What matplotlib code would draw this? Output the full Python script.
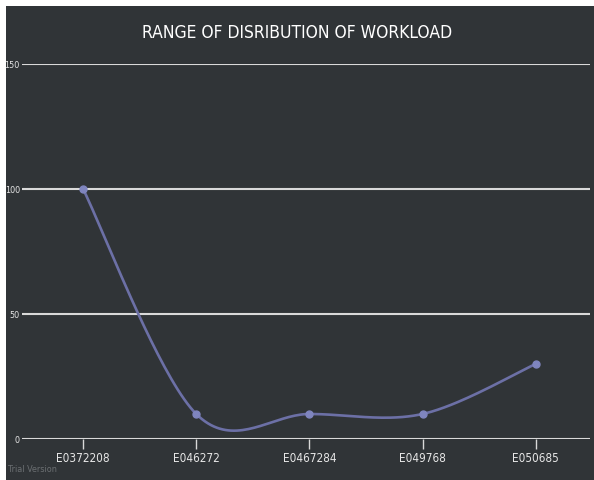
import numpy as np
import matplotlib
matplotlib.use('Agg')
import matplotlib.pyplot as plt
from matplotlib.patches import Rectangle

employees = ['E0372208', 'E046272', 'E0467284', 'E049768', 'E050685']
workload = [100, 10, 10, 10, 30]
y_ticks = [0, 50, 100, 150]

BG = '#303437'
LINE = '#6c70a6'


def catmull_rom(xs, ys, n=40):
    # smooth curve through the points (cardinal spline, tension 0)
    p = np.column_stack([xs, ys]).astype(float)
    p = np.vstack([p[0], p, p[-1]])
    out = []
    for i in range(1, len(p) - 2):
        p0, p1, p2, p3 = p[i - 1], p[i], p[i + 1], p[i + 2]
        m1 = (p2 - p0) / 2
        m2 = (p3 - p1) / 2
        t = np.linspace(0, 1, n)[:, None]
        h00 = 2 * t**3 - 3 * t**2 + 1
        h10 = t**3 - 2 * t**2 + t
        h01 = -2 * t**3 + 3 * t**2
        h11 = t**3 - t**2
        out.append(h00 * p1 + h10 * m1 + h01 * p2 + h11 * m2)
    c = np.vstack(out)
    return c[:, 0], c[:, 1]


fig = plt.figure(figsize=(5.94, 4.81), dpi=100, facecolor='white')
fig.patches.append(Rectangle((6 / 594, 0), 1, 1 - 7 / 481, transform=fig.transFigure,
                             facecolor=BG, edgecolor='none', zorder=-5))

ax = fig.add_axes([22 / 594, 41 / 481, 568 / 594, 375 / 481])
ax.set_facecolor('none')

x = np.arange(len(employees))
sx, sy = catmull_rom(x, workload)
ax.plot(sx, sy, color=LINE, lw=1.9, zorder=3, clip_on=False)
ax.plot(x, workload, 'o', color='#7f85bf', ms=5, zorder=4, clip_on=False)

ax.set_xlim(-0.54, 4.48)
ax.set_ylim(0, 150)
ax.set_yticks(y_ticks)
ax.set_xticks(x)
ax.set_xticklabels(employees)
ax.grid(axis='y', color='#d9d9d9', lw=1.5)
ax.set_axisbelow(True)
for s in ax.spines.values():
    s.set_visible(False)
ax.tick_params(axis='y', length=0, pad=1.5, colors='#e6e6e6', labelsize=6.5)
ax.tick_params(axis='x', length=7, width=1, color='#d9d9d9', pad=2, colors='#e6e6e6', labelsize=8.5)
for lab in ax.get_xticklabels() + ax.get_yticklabels():
    lab.set_family('DejaVu Sans')
    lab.set_fontstretch('condensed')

fig.text(0.5, 1 - 33 / 481, 'RANGE OF DISRIBUTION OF WORKLOAD', ha='center', va='center',
         color='white', fontsize=12.5, family='DejaVu Sans', fontstretch='condensed')
fig.text(8 / 594, 1 - 470 / 481, 'Trial Version', ha='left', va='center',
         color='#6b6f72', fontsize=6.5, family='DejaVu Sans', fontstretch='condensed')

fig.savefig('out.png', dpi=100, facecolor='white')
